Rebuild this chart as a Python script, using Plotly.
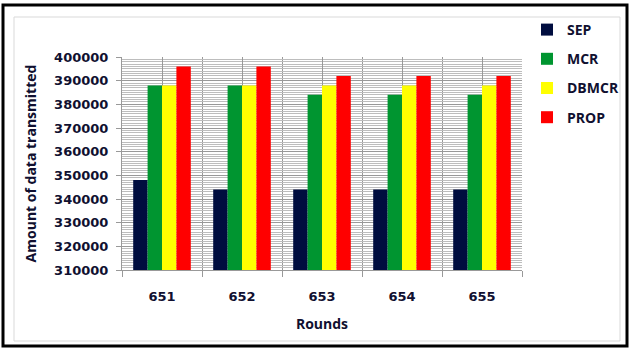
import plotly.graph_objects as go

rounds = [651, 652, 653, 654, 655]
sep = [348000, 344000, 344000, 344000, 344000]
mcr = [388000, 388000, 384000, 384000, 384000]
dbmcr = [388000, 388000, 388000, 388000, 388000]
prop = [396000, 396000, 392000, 392000, 392000]

series = [("SEP", sep, "#000D3F"), ("MCR", mcr, "#009530"),
          ("DBMCR", dbmcr, "#FFFF00"), ("PROP", prop, "#FF0000")]

W, H = 630, 351
L, R, T, B = 122, 522, 57, 270

fig = go.Figure()
for i, (name, vals, col) in enumerate(series):
    fig.add_trace(go.Bar(x=rounds, y=vals, name=name, marker_color=col,
                         marker_line_width=0, legendgroup=name))

def px2paper(x, y):
    return (x - L) / (R - L), (B - y) / (B - T)

x0, y0 = px2paper(3, 5)
x1, y1 = px2paper(627, 346)
ix0, iy0 = px2paper(14, 17)
ix1, iy1 = px2paper(620, 341)

font = "DejaVu Sans"
tfont = "Open Sans"
tcol = "#101030"
fig.update_layout(
    width=W, height=H,
    margin=dict(l=L, r=W - R, t=T, b=H - B, autoexpand=False),
    paper_bgcolor="white", plot_bgcolor="white",
    barmode="group", bargap=0.28, bargroupgap=0,
    font=dict(family=font, color=tcol),
    xaxis=dict(range=[650.5, 655.5], tickvals=rounds, ticktext=[str(r) for r in rounds],
               showgrid=True, gridcolor="#999999", gridwidth=1,
               ticks="", showline=True, linecolor="#999999", linewidth=1,
               tickfont=dict(size=13, family=font, color=tcol, weight="bold"),
               ticklabelstandoff=14,
               minor=dict(tick0=650.5, dtick=1, showgrid=True, gridcolor="#999999",
                          gridwidth=1, ticks="outside", ticklen=6, tickcolor="#999999"),
               title=dict(text="Rounds", font=dict(size=14, family=tfont, weight="bold"), standoff=16),
               zeroline=False),
    yaxis=dict(range=[310000, 400000], dtick=10000, tick0=310000, tickformat="d",
               showgrid=True, gridcolor="#999999", gridwidth=1,
               ticks="outside", ticklen=5, tickcolor="#999999",
               showline=True, linecolor="#999999", linewidth=1,
               tickfont=dict(size=13, family=font, color=tcol, weight="bold"),
               ticklabelstandoff=5,
               minor=dict(dtick=1000, showgrid=True, gridcolor="#bdbdbd", gridwidth=1),
               title=dict(text="Amount of data transmitted",
                          font=dict(size=14, family=tfont, weight="bold"), standoff=14),
               zeroline=False),
    legend=dict(x=px2paper(527, 0)[0], y=px2paper(0, 14)[1], xanchor="left", yanchor="top",
                traceorder="grouped", tracegroupgap=8,
                font=dict(size=14, family=tfont, color=tcol, weight="bold"),
                itemwidth=30, bgcolor="rgba(0,0,0,0)"),
    shapes=[
        dict(type="rect", xref="paper", yref="paper", x0=ix0, y0=iy0, x1=ix1, y1=iy1,
             line=dict(color="#d9d9d9", width=1), layer="below"),
        dict(type="rect", xref="paper", yref="paper", x0=x0, y0=y0, x1=x1, y1=y1,
             line=dict(color="black", width=3)),
    ],
)

fig.write_html("out.html")
